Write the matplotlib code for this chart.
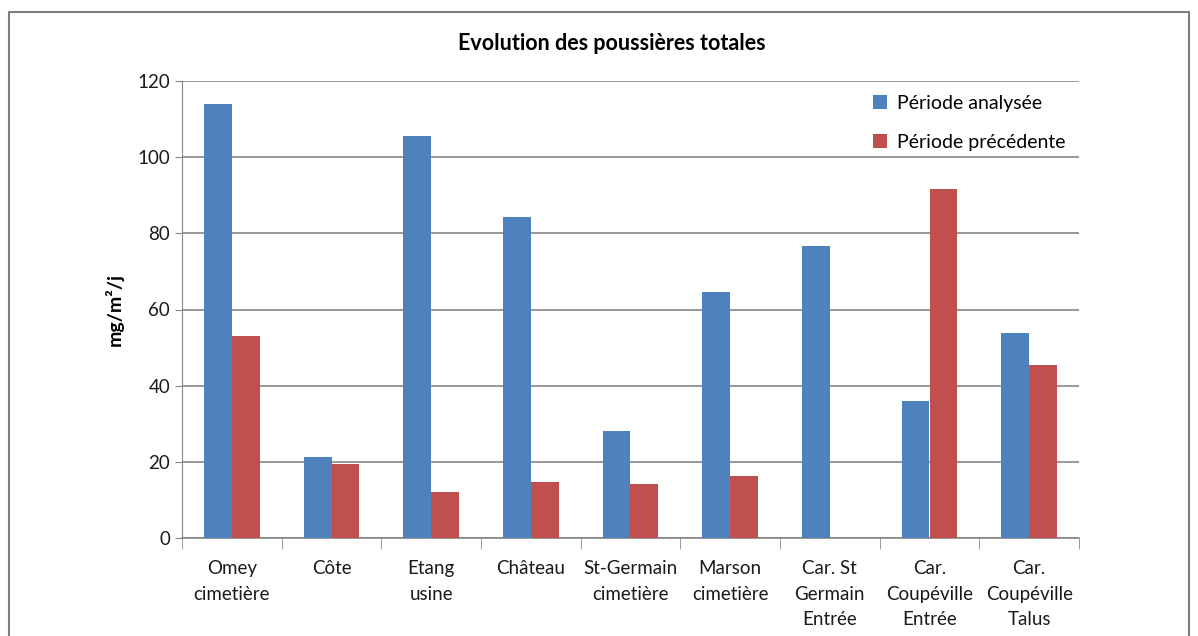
import numpy as np
import matplotlib
matplotlib.use("Agg")
import matplotlib.pyplot as plt
from matplotlib.patches import Rectangle

# Data
categories = [
    "Omey\ncimetière",
    "Côte",
    "Etang\nusine",
    "Château",
    "St-Germain\ncimetière",
    "Marson\ncimetière",
    "Car. St\nGermain\nEntrée",
    "Car.\nCoupéville\nEntrée",
    "Car.\nCoupéville\nTalus",
]
periode_analysee = [114, 21.3, 105.5, 84.2, 28.2, 64.5, 76.6, 35.9, 53.7]
periode_precedente = [53, 19.5, 12.1, 14.7, 14.2, 16.4, 0, 91.6, 45.3]
yticks = [0, 20, 40, 60, 80, 100, 120]

plt.rcParams["font.family"] = ["Lato", "DejaVu Sans"]

fig = plt.figure(figsize=(11.98, 6.36), dpi=100)
ax = fig.add_axes([182 / 1198, 1 - 538 / 636, (1079 - 182) / 1198, (538 - 81) / 636])

# outer chart frame
fig.patches.append(Rectangle((9 / 1198, -0.1), (1189 - 9) / 1198, 1.1 - 12 / 636,
                             transform=fig.transFigure, fill=False,
                             edgecolor="#7f7f7f", linewidth=1.5))

x = np.arange(len(categories))
w = 0.28
ax.bar(x - w / 2, periode_analysee, w, color="#4F81BD", label="Période analysée", zorder=3)
ax.bar(x + w / 2, periode_precedente, w, color="#C0504D", label="Période précédente", zorder=3)

ax.set_xlim(-0.5, len(categories) - 0.5)
ax.set_ylim(0, 120)
ax.set_yticks(yticks)
ax.set_xticks(x)
ax.set_xticklabels(categories, fontsize=13.5, linespacing=1.6, color="#1a1a1a")
ax.set_xticks(np.arange(-0.5, len(categories)), minor=True)
ax.tick_params(axis="x", which="major", length=0, pad=16)
ax.tick_params(axis="x", which="minor", length=8, color="#868686")
ax.tick_params(axis="y", length=5, color="#868686", labelsize=13.5, labelcolor="#1a1a1a")

ax.grid(axis="y", color="#868686", linewidth=1.2, zorder=0)
for s in ["top", "right"]:
    ax.spines[s].set_visible(False)
ax.spines["left"].set_color("#868686")
ax.spines["bottom"].set_color("#868686")
ax.spines["bottom"].set_linewidth(1.2)

ax.set_ylabel("mg/m²/j", fontsize=14, fontweight="bold", labelpad=10)
fig.text(612 / 1198, 1 - 43 / 636, "Evolution des poussières totales",
         ha="center", va="center", fontsize=15.5, fontweight="bold")

leg = ax.legend(loc="upper right", bbox_to_anchor=(1.004, 1.008), frameon=False,
                fontsize=14, handlelength=0.7, handleheight=0.7,
                handletextpad=0.5, labelspacing=1.12)

plt.savefig("out.png", dpi=100)
